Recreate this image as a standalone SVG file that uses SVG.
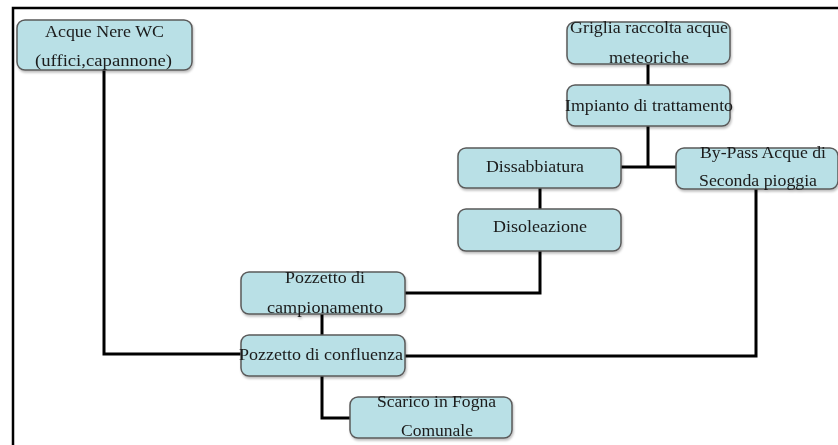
<svg xmlns="http://www.w3.org/2000/svg" width="838" height="445" viewBox="0 0 838 445">
<style>
.box{fill:#b9e0e6;stroke:#5a5a5a;stroke-width:1.5}
.t{font-family:"Liberation Serif","Times New Roman",serif;font-size:16px;fill:#1a1a1a;text-anchor:middle}
.c{fill:none;stroke:#000;stroke-width:3}
</style>
<defs>
<filter id="sh" x="-5%" y="-5%" width="115%" height="125%"><feDropShadow dx="1" dy="2" stdDeviation="1" flood-color="#000" flood-opacity="0.25"/></filter>
</defs>
<rect width="838" height="445" fill="#fff"/>
<path d="M13,445 V8 H838" fill="none" stroke="#000" stroke-width="2.5"/>
<g id="connectors">
<path class="c" d="M104,70 V354 H241"/>
<path class="c" d="M648,64 V85"/>
<path class="c" d="M648,126 V167"/>
<path class="c" d="M621,167 H676"/>
<path class="c" d="M540,188 V209"/>
<path class="c" d="M540,251 V293 H405"/>
<path class="c" d="M322,314 V335"/>
<path class="c" d="M756,189 V356 H405"/>
<path class="c" d="M322,376 V418 H350"/>
</g>
<g id="acque-nere" filter="url(#sh)"><rect class="box" x="17" y="20" width="175" height="50" rx="8"/><text class="t" x="104.5" y="37" textLength="119" lengthAdjust="spacingAndGlyphs">Acque Nere WC</text><text class="t" x="103.5" y="66" textLength="137" lengthAdjust="spacingAndGlyphs">(uffici,capannone)</text></g>
<g id="griglia" filter="url(#sh)"><rect class="box" x="567" y="22" width="163" height="42" rx="8"/><text class="t" x="649" y="33" textLength="158" lengthAdjust="spacingAndGlyphs">Griglia raccolta acque</text><text class="t" x="649" y="63" textLength="80" lengthAdjust="spacingAndGlyphs">meteoriche</text></g>
<g id="impianto" filter="url(#sh)"><rect class="box" x="567" y="85" width="163" height="41" rx="8"/><text class="t" x="649" y="111" textLength="168" lengthAdjust="spacingAndGlyphs">Impianto di trattamento</text></g>
<g id="dissabbiatura" filter="url(#sh)"><rect class="box" x="458" y="148" width="163" height="40" rx="8"/><text class="t" x="535" y="172" textLength="98" lengthAdjust="spacingAndGlyphs">Dissabbiatura</text></g>
<g id="bypass" filter="url(#sh)"><rect class="box" x="676" y="148" width="162" height="41" rx="8"/><text class="t" x="763" y="158" textLength="126" lengthAdjust="spacingAndGlyphs">By-Pass Acque di</text><text class="t" x="758" y="186" textLength="118" lengthAdjust="spacingAndGlyphs">Seconda pioggia</text></g>
<g id="disoleazione" filter="url(#sh)"><rect class="box" x="458" y="209" width="163" height="42" rx="8"/><text class="t" x="540" y="232" textLength="94" lengthAdjust="spacingAndGlyphs">Disoleazione</text></g>
<g id="pozzetto-campionamento" filter="url(#sh)"><rect class="box" x="241" y="272" width="164" height="42" rx="8"/><text class="t" x="325" y="283" textLength="80" lengthAdjust="spacingAndGlyphs">Pozzetto di</text><text class="t" x="325" y="313" textLength="116" lengthAdjust="spacingAndGlyphs">campionamento</text></g>
<g id="pozzetto-confluenza" filter="url(#sh)"><rect class="box" x="241" y="335" width="164" height="41" rx="8"/><text class="t" x="321" y="360" textLength="164" lengthAdjust="spacingAndGlyphs">Pozzetto di confluenza</text></g>
<g id="scarico" filter="url(#sh)"><rect class="box" x="350" y="397" width="162" height="41" rx="8"/><text class="t" x="436.5" y="407" textLength="119" lengthAdjust="spacingAndGlyphs">Scarico in Fogna</text><text class="t" x="437" y="436" textLength="72" lengthAdjust="spacingAndGlyphs">Comunale</text></g>
</svg>
